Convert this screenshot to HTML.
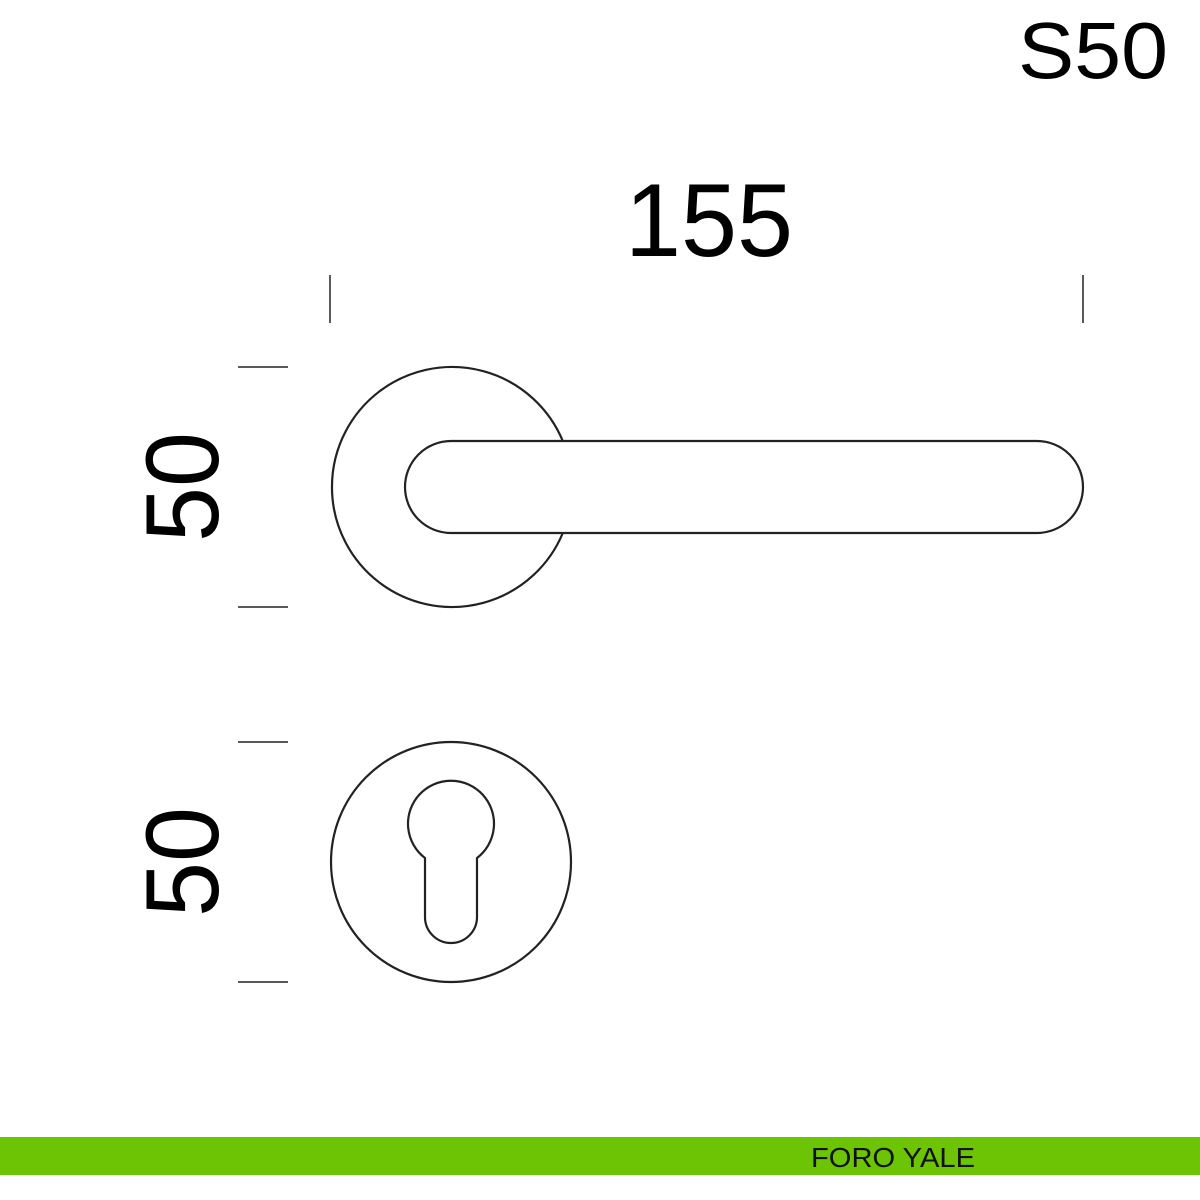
<!DOCTYPE html>
<html><head><meta charset="utf-8"><style>html,body{margin:0;padding:0;background:#fff}svg{display:block}</style></head>
<body>
<svg width="1200" height="1200" viewBox="0 0 1200 1200" xmlns="http://www.w3.org/2000/svg" font-family="Liberation Sans, sans-serif">
<rect width="1200" height="1200" fill="#fff"/>
<text x="1018" y="78" font-size="80" textLength="150" lengthAdjust="spacingAndGlyphs" fill="#000">S50</text>
<text x="625" y="256" font-size="104" textLength="168" lengthAdjust="spacingAndGlyphs" fill="#000">155</text>
<text transform="translate(218,542) rotate(-90)" font-size="104" textLength="110" lengthAdjust="spacingAndGlyphs" fill="#000">50</text>
<text transform="translate(218,917) rotate(-90)" font-size="104" textLength="110" lengthAdjust="spacingAndGlyphs" fill="#000">50</text>
<g stroke="#222" stroke-width="1.5">
<line x1="330" y1="275" x2="330" y2="323"/>
<line x1="1083" y1="275" x2="1083" y2="323"/>
<line x1="238" y1="367" x2="288" y2="367"/>
<line x1="238" y1="607" x2="288" y2="607"/>
<line x1="238" y1="742" x2="288" y2="742"/>
<line x1="238" y1="982" x2="288" y2="982"/>
</g>
<g fill="none" stroke="#222" stroke-width="2.2">
<path d="M562.8,441 A120,120 0 1 0 562.8,533"/>
<path d="M451,441 L1037,441 A46,46 0 0 1 1037,533 L451,533 A46,46 0 0 1 451,441 Z"/>
<circle cx="451" cy="862" r="120"/>
<path d="M425,858 A43,43 0 1 1 477,858 L477,917 A26,26 0 0 1 425,917 Z"/>
</g>
<rect x="0" y="1137" width="1200" height="38" fill="#6cc404"/>
<text x="811" y="1167" font-size="28" textLength="164" lengthAdjust="spacingAndGlyphs" fill="#111">FORO YALE</text>
</svg>
</body></html>
